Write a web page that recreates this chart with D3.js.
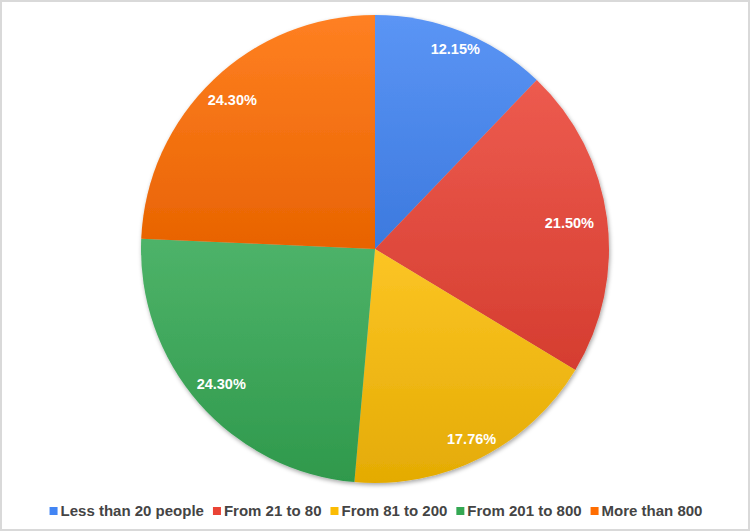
<!DOCTYPE html>
<html>
<head>
<meta charset="utf-8">
<script src="https://cdn.jsdelivr.net/npm/d3@7"></script>
<style>
    body { margin: 0; background: #fff; }
    svg { display: block; font-family: "Liberation Sans", Arial, sans-serif; }
    text.pct { fill: #fff; font-size: 14.5px; font-weight: bold; }
    text.leg { fill: #444; font-size: 15px; font-weight: bold; }
</style>
</head>
<body>
<div id="chart"></div>
<script>
    const categories = ["Less than 20 people", "From 21 to 80", "From 81 to 200", "From 201 to 800", "More than 800"];
    const shares = [12.15, 21.50, 17.76, 24.30, 24.30];
    const colors = ["#4285f4", "#ea4335", "#fbbc04", "#34a853", "#ff6d01"];

    (function () {
        const width = 750, height = 531;
        const cx = 375, cy = 249, radius = 234;

        const svg = d3.select("#chart").append("svg")
            .attr("width", width)
            .attr("height", height);

        svg.append("rect")
            .attr("x", 1).attr("y", 1)
            .attr("width", width - 2).attr("height", height - 2)
            .attr("fill", "#fff")
            .attr("stroke", "#d9d9d9")
            .attr("stroke-width", 2);

        const defs = svg.append("defs");

        const shadow = defs.append("filter")
            .attr("id", "shadow")
            .attr("x", "-10%").attr("y", "-10%")
            .attr("width", "120%").attr("height", "120%");
        shadow.append("feDropShadow")
            .attr("dx", 1).attr("dy", 2)
            .attr("stdDeviation", 2)
            .attr("flood-color", "#000")
            .attr("flood-opacity", 0.35);

        // top-light / bottom-dark gradient per slice
        colors.forEach(function (c, i) {
            const g = defs.append("linearGradient")
                .attr("id", "grad" + i)
                .attr("x1", 0).attr("y1", 0)
                .attr("x2", 0).attr("y2", 1);
            g.append("stop").attr("offset", "0%")
                .attr("stop-color", d3.interpolateRgb(c, "#fff")(0.13));
            g.append("stop").attr("offset", "100%")
                .attr("stop-color", d3.interpolateRgb(c, "#000")(0.09));
        });

        const pie = d3.pie().sort(null).value(function (d) { return d; });
        const arcs = pie(shares);
        const total = d3.sum(shares);

        const arc = d3.arc().innerRadius(0).outerRadius(radius);

        const g = svg.append("g")
            .attr("transform", "translate(" + cx + "," + cy + ")");

        const slices = g.append("g").attr("filter", "url(#shadow)");
        slices.selectAll("path")
            .data(arcs)
            .enter()
            .append("path")
            .attr("d", arc)
            .attr("fill", function (d, i) { return "url(#grad" + i + ")"; });

        // labels placed "inside end": box kept just inside the rim
        const fmt = d3.format(".2f");
        const labels = g.selectAll("text.pct")
            .data(arcs)
            .enter()
            .append("text")
            .attr("class", "pct")
            .attr("text-anchor", "middle")
            .attr("dy", "0.35em")
            .text(function (d) { return fmt(d.value / total * 100) + "%"; });

        labels.attr("transform", function (d) {
            const a = (d.startAngle + d.endAngle) / 2;
            const ux = Math.sin(a), uy = -Math.cos(a);
            const w = this.getComputedTextLength();
            const dist = radius - 2 - Math.abs(ux) * (w / 2 + 3) - Math.abs(uy) * 6.5 - 8 * Math.pow(ux, 4);
            return "translate(" + (ux * dist) + "," + (uy * dist) + ")";
        });

        // legend
        const legY = 511;
        const leg = svg.append("g");
        const items = leg.selectAll("g")
            .data(categories)
            .enter()
            .append("g");
        items.append("rect")
            .attr("width", 8).attr("height", 8)
            .attr("y", legY - 4)
            .attr("fill", function (d, i) { return colors[i]; });
        items.append("text")
            .attr("class", "leg")
            .attr("x", 11)
            .attr("y", legY)
            .attr("dy", "0.35em")
            .text(function (d) { return d; });

        let x = 0;
        items.each(function () {
            const tw = d3.select(this).select("text").node().getComputedTextLength();
            d3.select(this).attr("transform", "translate(" + x + ",0)");
            x += 11 + tw + 9;
        });
        const legW = x - 9;
        leg.attr("transform", "translate(" + ((width - legW) / 2 + 1) + ",0)");
    })();
</script>
</body>
</html>
